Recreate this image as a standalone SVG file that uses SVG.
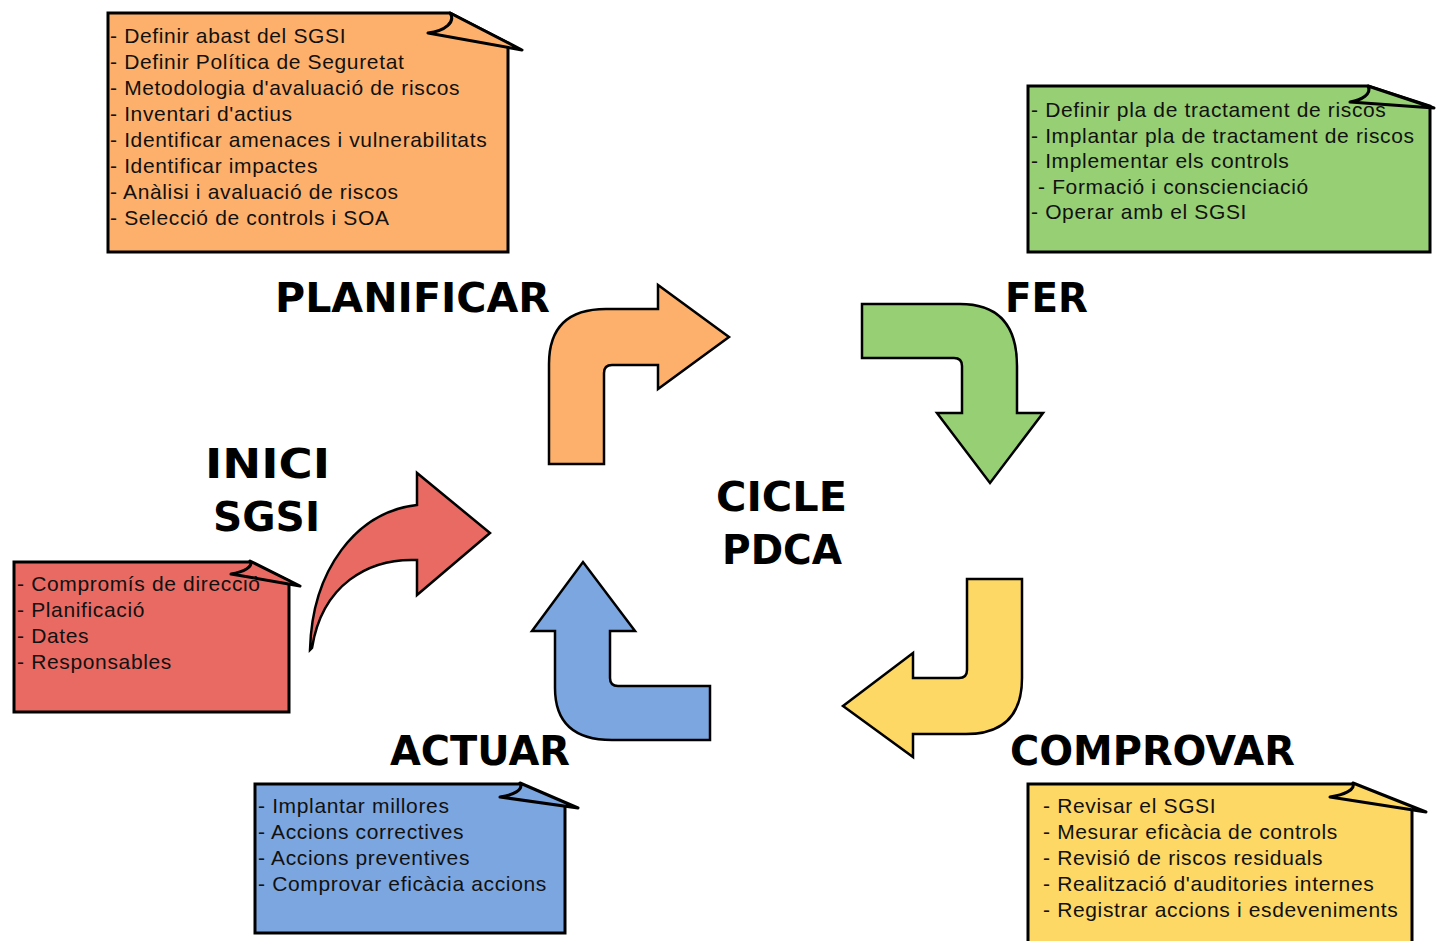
<svg xmlns="http://www.w3.org/2000/svg" width="1436" height="941" viewBox="0 0 1436 941">
<style>
.note{stroke:#000;stroke-width:3;stroke-linejoin:miter}
.fold{stroke:#000;stroke-width:3;stroke-linejoin:round}
.arr{stroke:#000;stroke-width:2.5;stroke-linejoin:miter}
.t{font-family:"Liberation Sans",Arial,sans-serif;font-size:21px;letter-spacing:0.65px;fill:#111}
.h{font-family:"DejaVu Sans",Verdana,sans-serif;font-weight:bold;font-size:41px;fill:#000}
.or{fill:#FDB06B}.gr{fill:#96CF74}.rd{fill:#E86A62}.bl{fill:#7CA6E0}.ye{fill:#FDD865}
</style>
<rect width="1436" height="941" fill="#fff"/>

<g id="note-planificar">
<path class="note or" d="M108,13 H450 L508,43 V252 H108 Z"/>
<path class="fold or" d="M450,13 L522,50 L428,33 C445,31 456,22 450,13 Z"/>
<text class="t" x="110" y="43">- Definir abast del SGSI</text>
<text class="t" x="110" y="69">- Definir Política de Seguretat</text>
<text class="t" x="110" y="95">- Metodologia d'avaluació de riscos</text>
<text class="t" x="110" y="121">- Inventari d'actius</text>
<text class="t" x="110" y="147">- Identificar amenaces i vulnerabilitats</text>
<text class="t" x="110" y="173">- Identificar impactes</text>
<text class="t" x="110" y="199">- Anàlisi i avaluació de riscos</text>
<text class="t" x="110" y="225">- Selecció de controls i SOA</text>
</g>

<g id="note-fer">
<path class="note gr" d="M1028,86 H1368 L1430,106 V252 H1028 Z"/>
<path class="fold gr" d="M1368,86 L1434,108 L1350,102 C1362,100 1372,94 1368,86 Z"/>
<text class="t" x="1031" y="117">- Definir pla de tractament de riscos</text>
<text class="t" x="1031" y="143">- Implantar pla de tractament de riscos</text>
<text class="t" x="1031" y="168">- Implementar els controls</text>
<text class="t" x="1038" y="194">- Formació i conscienciació</text>
<text class="t" x="1031" y="219">- Operar amb el SGSI</text>
</g>

<g id="note-inici">
<path class="note rd" d="M14,562 H250 L289,581 V712 H14 Z"/>
<path class="fold rd" d="M250,561 L300,586 L231,574 C243,572 254,567 250,561 Z"/>
<text class="t" x="17" y="591">- Compromís de direcció</text>
<text class="t" x="17" y="617">- Planificació</text>
<text class="t" x="17" y="643">- Dates</text>
<text class="t" x="17" y="669">- Responsables</text>
</g>

<g id="note-actuar">
<path class="note bl" d="M255,784 H520 L565,805 V933 H255 Z"/>
<path class="fold bl" d="M520,783 L578,808 L500,797 C513,795 524,790 520,783 Z"/>
<text class="t" x="258" y="813">- Implantar millores</text>
<text class="t" x="258" y="839">- Accions correctives</text>
<text class="t" x="258" y="865">- Accions preventives</text>
<text class="t" x="258" y="891">- Comprovar eficàcia accions</text>
</g>

<g id="note-comprovar">
<path class="note ye" d="M1028,784 H1353 L1412,808 V945 H1028 Z"/>
<path class="fold ye" d="M1353,783 L1426,812 L1330,797 C1343,795 1356,790 1353,783 Z"/>
<text class="t" x="1043" y="813">- Revisar el SGSI</text>
<text class="t" x="1043" y="839">- Mesurar eficàcia de controls</text>
<text class="t" x="1043" y="865">- Revisió de riscos residuals</text>
<text class="t" x="1043" y="891">- Realització d'auditories internes</text>
<text class="t" x="1043" y="917">- Registrar accions i esdeveniments</text>
</g>

<g id="titles">
<text class="h" x="275" y="312" textLength="275" lengthAdjust="spacingAndGlyphs">PLANIFICAR</text>
<text class="h" x="1005" y="312" textLength="83" lengthAdjust="spacingAndGlyphs">FER</text>
<text class="h" x="205" y="478" textLength="125" lengthAdjust="spacingAndGlyphs">INICI</text>
<text class="h" x="213" y="531" textLength="107" lengthAdjust="spacingAndGlyphs">SGSI</text>
<text class="h" x="716" y="511" textLength="131" lengthAdjust="spacingAndGlyphs">CICLE</text>
<text class="h" x="722" y="564" textLength="120" lengthAdjust="spacingAndGlyphs">PDCA</text>
<text class="h" x="390" y="765" textLength="180" lengthAdjust="spacingAndGlyphs">ACTUAR</text>
<text class="h" x="1010" y="765" textLength="285" lengthAdjust="spacingAndGlyphs">COMPROVAR</text>
</g>

<g id="connectors">
<path id="arrow-plan" class="arr or" d="M549,464 V364 Q549,309 606,309 H658 V285 L729,337 L658,389 V365 H612 Q604,365 604,373 V464 Z"/>
<path id="arrow-do" class="arr gr" d="M862,304 H960 Q1017,304 1017,366 V413 H1043 L990,483 L937,413 H962 V366 Q962,358 954,358 H862 Z"/>
<path id="arrow-check" class="arr ye" d="M967,579 H1022 V678 Q1022,734 966,734 H913 V757 L843,706 L913,653 V678 H959 Q967,678 967,670 Z"/>
<path id="arrow-act" class="arr bl" d="M710,740 H612 Q555,740 555,688 V631 H532 L583,562 L635,631 H610 V678 Q610,686 618,686 H710 Z"/>
<path id="arrow-init" class="arr rd" d="M310,650 C312,570 356,512 417,505 V473 L490,533 L417,595 V560 C368,558 322,585 312,648 Z"/>
</g>
</svg>
